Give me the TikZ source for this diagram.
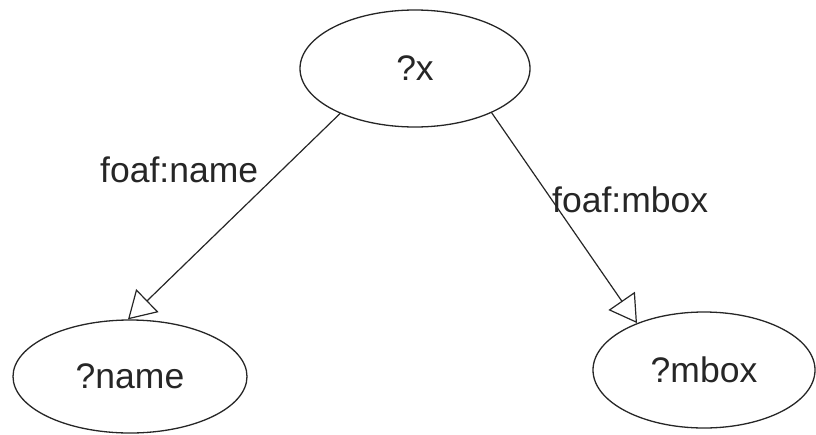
\documentclass[tikz,border=0pt]{standalone}
\usepackage{fontspec}
\setmainfont{Liberation Sans}
\usetikzlibrary{shapes.geometric,arrows.meta}
\begin{document}
\begin{tikzpicture}[x=1pt,y=1pt,
  every node/.style={font=\fontsize{35.5}{40}\selectfont, text=black!85},
  varnode/.style={draw=black!85, line width=1.3pt, ellipse, inner sep=0pt},
  edgeline/.style={draw=black!85, line width=1.2pt,
    -{Triangle[open, length=27pt, width=32pt, line width=1.2pt]}},
  edgelabel/.style={anchor=base west, inner sep=0pt}]
\useasboundingbox (0,0) rectangle (816,-434);
\node[varnode, minimum width=230pt, minimum height=117pt] (x) at (415,-68.5) {?x};
\node[varnode, minimum width=234pt, minimum height=113pt] (name) at (130,-376.5) {?name};
\node[varnode, minimum width=222pt, minimum height=116pt] (mbox) at (704,-370) {?mbox};
\draw[edgeline] (x.211.4) -- (name.92);
\draw[edgeline] (x.-30.7) -- (mbox.145.7);
\node[edgelabel] (l1) at (100,-182) {foaf:name};
\node[edgelabel] (l2) at (552,-212) {foaf:mbox};
\end{tikzpicture}
\end{document}
